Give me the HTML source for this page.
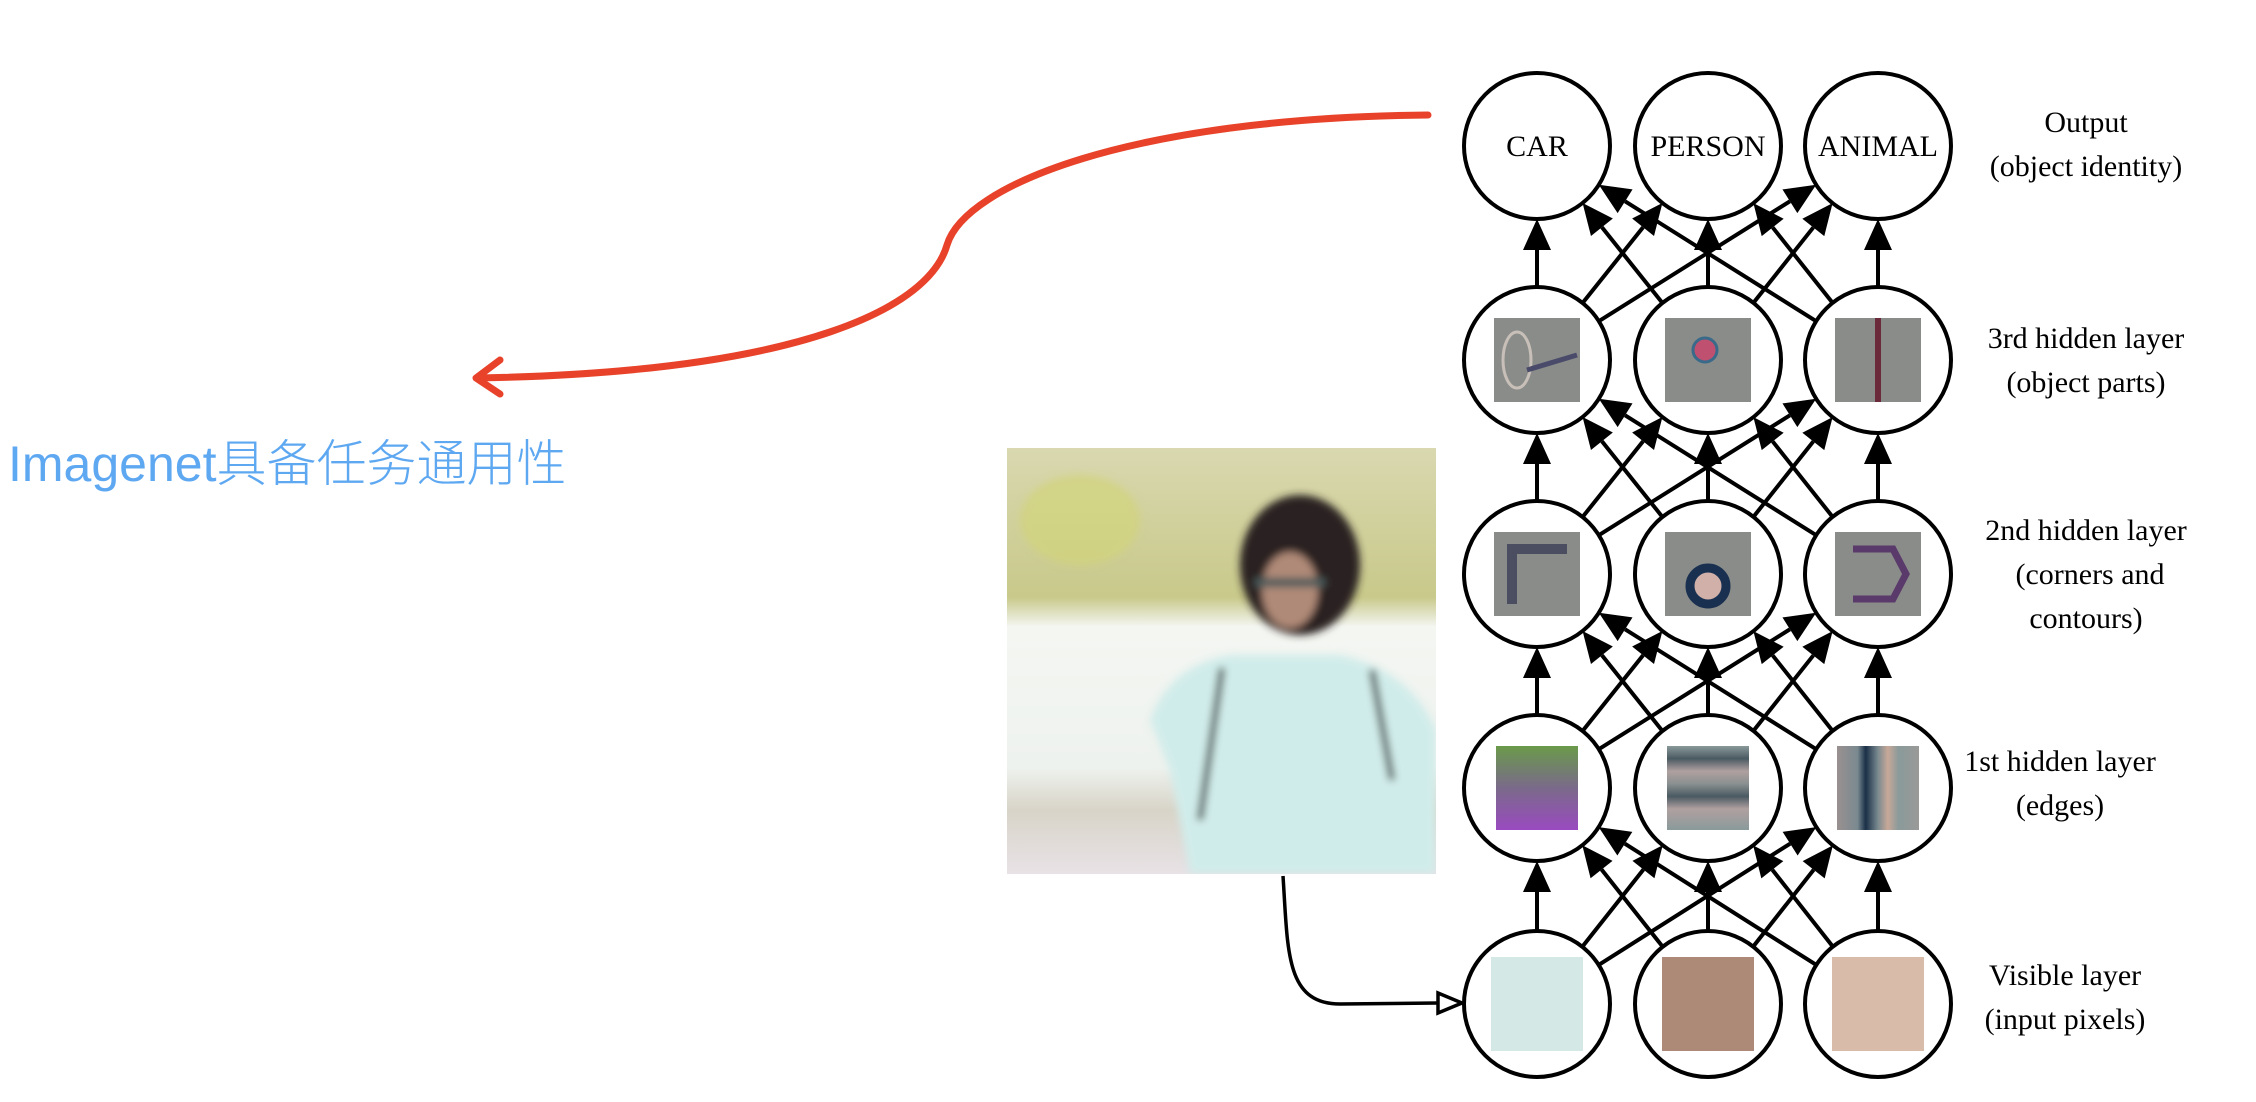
<!DOCTYPE html>
<html><head><meta charset="utf-8"><style>
html,body{margin:0;padding:0;background:#fff;}
body{width:2256px;height:1102px;overflow:hidden;position:relative;}
svg{position:absolute;left:0;top:0;}
.t{position:absolute;font-family:"Liberation Sans","Noto Sans CJK SC",sans-serif;color:#5ea8f2;font-size:50px;left:8px;top:424px;white-space:nowrap;font-weight:300;}
</style></head><body>
<svg id="s" width="2256" height="1102" viewBox="0 0 2256 1102" xmlns="http://www.w3.org/2000/svg">
<defs>
<linearGradient id="pg" x1="0" y1="0" x2="0" y2="1">
<stop offset="0" stop-color="#d9d8b0"/><stop offset="0.35" stop-color="#c8c98a"/><stop offset="0.42" stop-color="#f4f6f2"/><stop offset="0.75" stop-color="#eef2ee"/><stop offset="0.85" stop-color="#d8d4c8"/><stop offset="1" stop-color="#e8e2e6"/>
</linearGradient>
<linearGradient id="g1" x1="0" y1="0" x2="0" y2="1"><stop offset="0" stop-color="#6a9a4a"/><stop offset="0.5" stop-color="#7a6a8a"/><stop offset="1" stop-color="#9a4ac0"/></linearGradient>
<linearGradient id="g2" x1="0" y1="0" x2="0" y2="1">
<stop offset="0" stop-color="#8a9a9a"/><stop offset="0.15" stop-color="#4a5a62"/><stop offset="0.3" stop-color="#b0a0a0"/><stop offset="0.45" stop-color="#8a9090"/><stop offset="0.6" stop-color="#4a5a62"/><stop offset="0.75" stop-color="#b0a0a0"/><stop offset="1" stop-color="#8a9a9a"/></linearGradient>
<linearGradient id="g3" x1="0" y1="0" x2="1" y2="0">
<stop offset="0" stop-color="#9a9090"/><stop offset="0.25" stop-color="#7a8a90"/><stop offset="0.35" stop-color="#1a3048"/><stop offset="0.5" stop-color="#7a8a90"/><stop offset="0.62" stop-color="#c8a898"/><stop offset="0.75" stop-color="#8a9a9a"/><stop offset="1" stop-color="#9a9a98"/></linearGradient>
<filter id="bl"><feGaussianBlur stdDeviation="4"/></filter>
</defs>
<!-- red curve -->
<path d="M1428,115 C1130,118 965,185 947,245 C930,305 810,372 478,378" fill="none" stroke="#e8432a" stroke-width="7" stroke-linecap="round"/>
<path d="M500,360 L476,378 L500,394" fill="none" stroke="#e8432a" stroke-width="7" stroke-linecap="round" stroke-linejoin="round"/>
<!-- photo -->
<svg x="1007" y="448" width="429" height="426" viewBox="1007 448 429 426">
<rect x="1007" y="448" width="429" height="426" fill="url(#pg)"/>
<g filter="url(#bl)">
<ellipse cx="1080" cy="520" rx="60" ry="45" fill="#d2d47a" opacity="0.7"/>
<ellipse cx="1300" cy="565" rx="60" ry="70" fill="#2a2220"/>
<ellipse cx="1290" cy="590" rx="28" ry="38" fill="#b08a78"/>
<rect x="1255" y="578" width="70" height="9" fill="#4a5a5a"/>
<path d="M1150,720 Q1170,665 1230,655 L1340,655 Q1410,670 1436,730 L1436,874 L1190,874 L1170,770 Z" fill="#d0ecea"/>
<path d="M1222,668 L1200,820" stroke="#2a3030" stroke-width="6"/>
<path d="M1372,670 L1392,780" stroke="#2a3030" stroke-width="6"/>
</g>
</svg>
<!-- connector -->
<path d="M1283,876 C1288,950 1285,1004 1340,1004 L1438,1003" fill="none" stroke="#000" stroke-width="3.5"/>
<path d="M1438,993 L1462,1003 L1438,1013 Z" fill="#fff" stroke="#000" stroke-width="3.5"/>
<g id="edges"></g>
<g id="nodes" font-family="Liberation Serif, serif"></g>
<g font-family="Liberation Serif, serif" font-size="30" text-anchor="middle" fill="#000">
<text x="2086" y="132">Output</text><text x="2086" y="176">(object identity)</text>
<text x="2086" y="348">3rd hidden layer</text><text x="2086" y="392">(object parts)</text>
<text x="2086" y="540">2nd hidden layer</text><text x="2090" y="584">(corners and</text><text x="2086" y="628">contours)</text>
<text x="2060" y="771">1st hidden layer</text><text x="2060" y="815">(edges)</text>
<text x="2065" y="985">Visible layer</text><text x="2065" y="1029">(input pixels)</text>
</g>
</svg>
<div class="t">Imagenet具备任务通用性</div>
<script>
var X=[1537,1708,1878],Y=[146,360,574,788,1004],R=73,NS="http://www.w3.org/2000/svg";
var E=document.getElementById('edges'),N=document.getElementById('nodes');
function el(t,a,p){var e=document.createElementNS(NS,t);for(var k in a)e.setAttribute(k,a[k]);(p||E).appendChild(e);return e;}
for(var l=4;l>0;l--){for(var i=0;i<3;i++)for(var j=0;j<3;j++){
var x1=X[i],y1=Y[l],x2=X[j],y2=Y[l-1],dx=x2-x1,dy=y2-y1,d=Math.hypot(dx,dy),ux=dx/d,uy=dy/d;
var sx=x1+ux*R,sy=y1+uy*R,ex=x2-ux*R,ey=y2-uy*R,L=31,W=14;
var bx=ex-ux*L,by=ey-uy*L;
el('line',{x1:sx,y1:sy,x2:bx,y2:by,stroke:'#000','stroke-width':4});
el('polygon',{points:ex+','+ey+' '+(bx-uy*W)+','+(by+ux*W)+' '+(bx+uy*W)+','+(by-ux*W),fill:'#000'});
}}
var labels=['CAR','PERSON','ANIMAL'];
for(var l=0;l<5;l++)for(var i=0;i<3;i++){
el('circle',{cx:X[i],cy:Y[l],r:R,fill:'#fff',stroke:'#000','stroke-width':4},N);
if(l==0){var t=el('text',{x:X[i],y:Y[l]+10,'font-size':30,'text-anchor':'middle'},N);t.textContent=labels[i];}
else if(l==4){var c=['#d4e8e6','#ad8a78','#d8bba8'];el('rect',{x:X[i]-46,y:Y[l]-47,width:92,height:94,fill:c[i]},N);}
else if(l==3){var f=['url(#g1)','url(#g2)','url(#g3)'];el('rect',{x:X[i]-41,y:Y[l]-42,width:82,height:84,fill:f[i]},N);}
else{el('rect',{x:X[i]-43,y:Y[l]-42,width:86,height:84,fill:'#8a8c8a'},N);
 if(l==1&&i==0){el('ellipse',{cx:X[i]-20,cy:Y[l],rx:14,ry:28,fill:'none',stroke:'#c8c0b8','stroke-width':3},N);el('line',{x1:X[i]-10,y1:Y[l]+10,x2:X[i]+40,y2:Y[l]-5,stroke:'#4a4a6a','stroke-width':5},N);}
 if(l==1&&i==1){el('circle',{cx:X[i]-3,cy:Y[l]-10,r:12,fill:'#c05070',stroke:'#3a6a8a','stroke-width':3},N);}
 if(l==1&&i==2){el('line',{x1:X[i],y1:Y[l]-42,x2:X[i],y2:Y[l]+42,stroke:'#6a2a3a','stroke-width':6},N);}
 if(l==2&&i==0){el('rect',{x:X[i]-30,y:Y[l]-30,width:10,height:60,fill:'#4a4e60'},N);el('rect',{x:X[i]-30,y:Y[l]-30,width:60,height:10,fill:'#4a4e60'},N);}
 if(l==2&&i==1){el('circle',{cx:X[i],cy:Y[l]+12,r:18,fill:'#d0b0a8',stroke:'#1a3050','stroke-width':9},N);}
 if(l==2&&i==2){el('path',{d:'M'+(X[i]-25)+','+(Y[l]-25)+' L'+(X[i]+15)+','+(Y[l]-25)+' L'+(X[i]+28)+','+Y[l]+' L'+(X[i]+15)+','+(Y[l]+25)+' L'+(X[i]-25)+','+(Y[l]+25),fill:'none',stroke:'#5a3a6a','stroke-width':7},N);}
}
}
</script>
</body></html>
